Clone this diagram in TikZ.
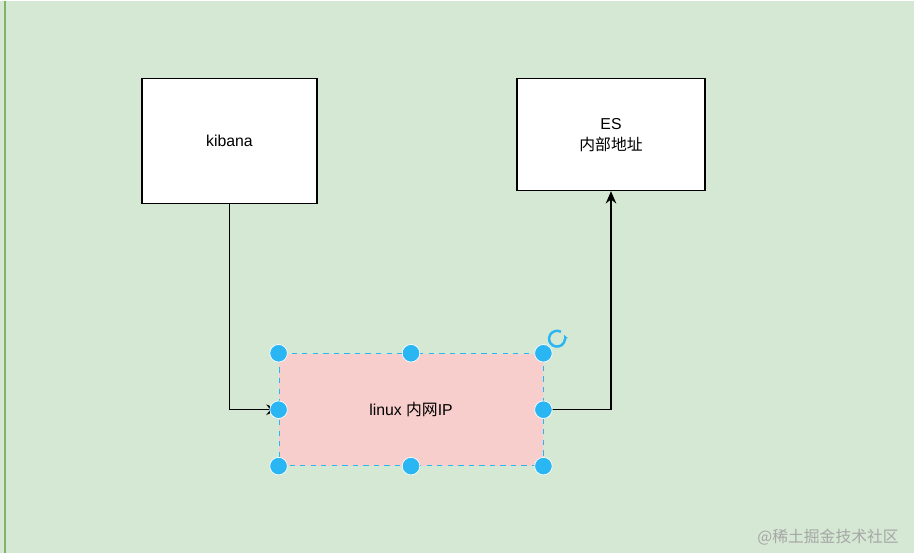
\documentclass[tikz,border=0pt]{standalone}
\usepackage{fontspec}
\setmainfont{Liberation Sans}
\newfontfamily\cjk{Noto Sans CJK SC}
\usetikzlibrary{arrows.meta}
\definecolor{bg}{HTML}{D5E8D4}
\definecolor{bgline}{HTML}{82B366}
\definecolor{pinkf}{HTML}{F8CECC}
\definecolor{hand}{HTML}{29B6F2}
\begin{document}
\begin{tikzpicture}[x=0.02cm,y=-0.02cm,
  box/.style={draw=black,fill=white,line width=0.6pt},
  conn/.style={draw=black,line width=0.6pt,-{Stealth[length=7pt,width=6pt]}},
  handle/.style={circle,fill=hand,draw=white,line width=0.4pt,inner sep=0pt,minimum size=10pt}]
\fill[bg] (0,0) rectangle (914,552);
\draw[bgline,line width=0.8pt] (5,0) -- (5,552);
\useasboundingbox (0,0) rectangle (914,552);
\node[box,minimum width=3.5cm,minimum height=2.5cm] (kib) at (229.5,140.5) {\small kibana};
\node[box,minimum width=3.76cm,minimum height=2.24cm,align=center] (es) at (611,134) {\small ES\\\small\cjk 内部地址};
\node[draw=hand,dashed,fill=pinkf,line width=0.5pt,minimum width=5.28cm,minimum height=2.24cm] (lin) at (411,409) {\small linux {\cjk 内网}IP};
\draw[conn] (kib.south) |- (lin.west);
\draw[conn] (lin.east) -| (es.south);
\foreach \p [count=\i] in {north west,north,north east,west,east,south west,south,south east}
  \node[handle] (h\i) at (lin.\p) {};
\node[circle,inner sep=0pt,minimum size=12pt] (rot) at (557,338) {};
\draw[hand,line width=1.4pt,-{Stealth[length=3pt]}] (rot.center) ++(60:4.5pt) arc (60:390:4.5pt);
\node[text=gray!70,anchor=east] (wm) at (905,536) {\small\cjk @稀土掘金技术社区};
\end{tikzpicture}
\end{document}
